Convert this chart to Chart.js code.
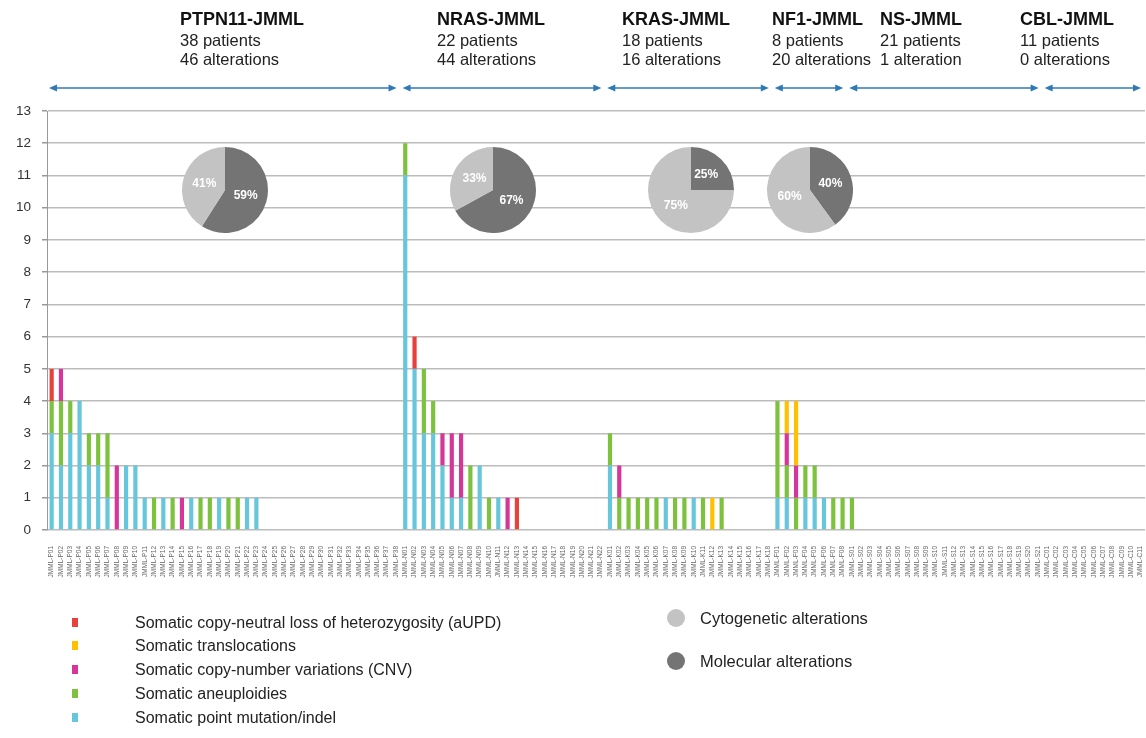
<!DOCTYPE html>
<html>
<head>
<meta charset="utf-8">
<script src="https://cdn.jsdelivr.net/npm/chart.js@4.4.1/dist/chart.umd.min.js"></script>
<style>
  body { margin: 0; background: #fff; font-family: "Liberation Sans", Arial, sans-serif; }
  #wrap { position: relative; width: 1146px; height: 738px; overflow: hidden; }
  #mainChart { position: absolute; left: 0; top: 0; }
  .pie { position: absolute; top: 147px; }
  .legend-row { position: absolute; font-size: 16px; color: #222; line-height: 18px; white-space: nowrap; }
  .sq { position: absolute; width: 6px; height: 9px; }
  .dot { position: absolute; width: 18px; height: 18px; border-radius: 50%; }
</style>
</head>
<body>
<div id="wrap">
  <canvas id="mainChart" width="1146" height="738"></canvas>
  <canvas class="pie" id="pie0" width="86" height="86" style="left:182px"></canvas>
  <canvas class="pie" id="pie1" width="86" height="86" style="left:450px"></canvas>
  <canvas class="pie" id="pie2" width="86" height="86" style="left:648px"></canvas>
  <canvas class="pie" id="pie3" width="86" height="86" style="left:767px"></canvas>

  <div class="sq" style="left:72px;top:618px;background:#e8403a"></div>
  <div class="legend-row" style="left:135px;top:614px">Somatic copy-neutral loss of heterozygosity (aUPD)</div>
  <div class="sq" style="left:72px;top:641px;background:#ffc000"></div>
  <div class="legend-row" style="left:135px;top:637px">Somatic translocations</div>
  <div class="sq" style="left:72px;top:665px;background:#d6359a"></div>
  <div class="legend-row" style="left:135px;top:661px">Somatic copy-number variations (CNV)</div>
  <div class="sq" style="left:72px;top:689px;background:#7cc23c"></div>
  <div class="legend-row" style="left:135px;top:685px">Somatic aneuploidies</div>
  <div class="sq" style="left:72px;top:713px;background:#66c6dc"></div>
  <div class="legend-row" style="left:135px;top:709px">Somatic point mutation/indel</div>

  <div class="dot" style="left:667px;top:609px;background:#c3c3c3"></div>
  <div class="legend-row" style="left:700px;top:609px;font-size:16.5px">Cytogenetic alterations</div>
  <div class="dot" style="left:667px;top:652px;background:#747474"></div>
  <div class="legend-row" style="left:700px;top:652px;font-size:16.5px">Molecular alterations</div>
</div>

<script>
// groups (JMML subtypes)
const groupNames = ["PTPN11-JMML", "NRAS-JMML", "KRAS-JMML", "NF1-JMML", "NS-JMML", "CBL-JMML"];
const groupPatients = ["38 patients", "22 patients", "18 patients", "8 patients", "21 patients", "11 patients"];
const groupAlterations = ["46 alterations", "44 alterations", "16 alterations", "20 alterations", "1 alteration", "0 alterations"];
const groupSizes = [38, 22, 18, 8, 21, 11];
const groupPrefix = ["P", "N", "K", "F", "S", "C"];

// alterations per patient, one value per bar (PTPN11 | NRAS | KRAS | NF1 | NS | CBL)
const pointMutation = [
  3,2,3,4,2,2,1,0,2,2,1,0,1,0,0,1,0,0,1,0,0,1,1,0,0,0,0,0,0,0,0,0,0,0,0,0,0,0,
  11,5,3,3,2,1,1,0,2,0,1,0,0,0,0,0,0,0,0,0,0,0,
  2,0,0,0,0,0,1,0,0,1,0,0,0,0,0,0,0,0,
  1,1,0,1,1,1,0,0,
  0,0,0,0,0,0,0,0,0,0,0,0,0,0,0,0,0,0,0,0,0,
  0,0,0,0,0,0,0,0,0,0,0
];
const aneuploidy = [
  1,2,1,0,1,1,2,0,0,0,0,1,0,1,0,0,1,1,0,1,1,0,0,0,0,0,0,0,0,0,0,0,0,0,0,0,0,0,
  1,0,2,1,0,0,0,2,0,1,0,0,0,0,0,0,0,0,0,0,0,0,
  1,1,1,1,1,1,0,1,1,0,1,0,1,0,0,0,0,0,
  3,1,1,1,1,0,1,1,
  1,0,0,0,0,0,0,0,0,0,0,0,0,0,0,0,0,0,0,0,0,
  0,0,0,0,0,0,0,0,0,0,0
];
const cnv = [
  0,1,0,0,0,0,0,2,0,0,0,0,0,0,1,0,0,0,0,0,0,0,0,0,0,0,0,0,0,0,0,0,0,0,0,0,0,0,
  0,0,0,0,1,2,2,0,0,0,0,1,0,0,0,0,0,0,0,0,0,0,
  0,1,0,0,0,0,0,0,0,0,0,0,0,0,0,0,0,0,
  0,1,1,0,0,0,0,0,
  0,0,0,0,0,0,0,0,0,0,0,0,0,0,0,0,0,0,0,0,0,
  0,0,0,0,0,0,0,0,0,0,0
];
const translocation = [
  0,0,0,0,0,0,0,0,0,0,0,0,0,0,0,0,0,0,0,0,0,0,0,0,0,0,0,0,0,0,0,0,0,0,0,0,0,0,
  0,0,0,0,0,0,0,0,0,0,0,0,0,0,0,0,0,0,0,0,0,0,
  0,0,0,0,0,0,0,0,0,0,0,1,0,0,0,0,0,0,
  0,1,2,0,0,0,0,0,
  0,0,0,0,0,0,0,0,0,0,0,0,0,0,0,0,0,0,0,0,0,
  0,0,0,0,0,0,0,0,0,0,0
];
const aupd = [
  1,0,0,0,0,0,0,0,0,0,0,0,0,0,0,0,0,0,0,0,0,0,0,0,0,0,0,0,0,0,0,0,0,0,0,0,0,0,
  0,1,0,0,0,0,0,0,0,0,0,0,1,0,0,0,0,0,0,0,0,0,
  0,0,0,0,0,0,0,0,0,0,0,0,0,0,0,0,0,0,
  0,0,0,0,0,0,0,0,
  0,0,0,0,0,0,0,0,0,0,0,0,0,0,0,0,0,0,0,0,0,
  0,0,0,0,0,0,0,0,0,0,0
];

// pie insets: % molecular vs cytogenetic (PTPN11, NRAS, KRAS, NF1)
const molecularPct = [59, 67, 25, 40];
const cytogeneticPct = [41, 33, 75, 60];

// patient tick labels
const patientLabels = [];
groupSizes.forEach((n, g) => {
  for (let i = 1; i <= n; i++) patientLabels.push("JMML-" + groupPrefix[g] + String(i).padStart(2, "0"));
});

// header text x positions (layout only)
const headerX = [180, 437, 622, 772, 880, 1020];

const headerPlugin = {
  id: "header",
  afterDraw(chart) {
    const ctx = chart.ctx;
    const xs = chart.scales.x;
    const step = xs.getPixelForValue(1) - xs.getPixelForValue(0);
    ctx.save();
    ctx.textBaseline = "middle";
    ctx.textAlign = "left";
    groupNames.forEach((name, g) => {
      ctx.fillStyle = "#111";
      ctx.font = "bold 18px 'Liberation Sans', Arial, sans-serif";
      ctx.fillText(name, headerX[g], 20);
      ctx.font = "16.5px 'Liberation Sans', Arial, sans-serif";
      ctx.fillStyle = "#222";
      ctx.fillText(groupPatients[g], headerX[g], 41);
      ctx.fillText(groupAlterations[g], headerX[g], 60);
    });
    // double arrows per group
    let start = 0;
    const y = 88;
    ctx.strokeStyle = "#2f79b5";
    ctx.fillStyle = "#2f79b5";
    ctx.lineWidth = 1.5;
    groupSizes.forEach((n) => {
      const left = xs.getPixelForValue(start) - step / 2 + 2;
      const right = Math.min(xs.getPixelForValue(start + n - 1) + step / 2 - 4, chart.width - 5);
      ctx.beginPath();
      ctx.moveTo(left + 3, y);
      ctx.lineTo(right - 3, y);
      ctx.stroke();
      ctx.beginPath();
      ctx.moveTo(left, y); ctx.lineTo(left + 8, y - 3.5); ctx.lineTo(left + 8, y + 3.5); ctx.closePath();
      ctx.fill();
      ctx.beginPath();
      ctx.moveTo(right, y); ctx.lineTo(right - 8, y - 3.5); ctx.lineTo(right - 8, y + 3.5); ctx.closePath();
      ctx.fill();
      start += n;
    });
    ctx.restore();
  }
};

new Chart(document.getElementById("mainChart"), {
  type: "bar",
  data: {
    labels: patientLabels,
    datasets: [
      { label: "Somatic point mutation/indel", data: pointMutation, backgroundColor: "#66c6dc" },
      { label: "Somatic aneuploidies", data: aneuploidy, backgroundColor: "#7cc23c" },
      { label: "Somatic copy-number variations (CNV)", data: cnv, backgroundColor: "#d6359a" },
      { label: "Somatic translocations", data: translocation, backgroundColor: "#ffc000" },
      { label: "Somatic copy-neutral loss of heterozygosity (aUPD)", data: aupd, backgroundColor: "#e8403a" }
    ]
  },
  options: {
    responsive: false,
    animation: false,
    devicePixelRatio: 1,
    layout: { padding: { top: 111, left: 0, right: 1, bottom: 158 } },
    datasets: { bar: { barPercentage: 0.45, categoryPercentage: 1, borderWidth: 0 } },
    plugins: { legend: { display: false }, tooltip: { enabled: false } },
    scales: {
      x: {
        stacked: true,
        grid: { display: false },
        border: { display: false },
        afterFit: (s) => { s.height = 50; s.paddingLeft = 0; s.paddingRight = 0; },
        ticks: {
          autoSkip: false, maxRotation: 90, minRotation: 90, padding: 8,
          color: "#666", font: { size: 6.5, family: "'Liberation Sans', Arial" }
        }
      },
      y: {
        stacked: true,
        min: 0, max: 13,
        afterFit: (s) => { s.width = 47; },
        grid: { color: "#bcbcbc", lineWidth: 1.5, tickLength: 5, tickColor: "#999" },
        border: { color: "#999", width: 1 },
        ticks: {
          stepSize: 1, padding: 11, color: "#333",
          font: { size: 13.5, family: "'Liberation Sans', Arial" }
        }
      }
    }
  },
  plugins: [headerPlugin]
});

// pie percentage labels
const pieLabels = {
  id: "pieLabels",
  afterDatasetsDraw(chart) {
    const ctx = chart.ctx;
    const meta = chart.getDatasetMeta(0);
    ctx.save();
    ctx.font = "bold 12px 'Liberation Sans', Arial, sans-serif";
    ctx.fillStyle = "#fff";
    ctx.textAlign = "center";
    ctx.textBaseline = "middle";
    meta.data.forEach((arc, i) => {
      const p = arc.tooltipPosition();
      ctx.fillText(chart.data.datasets[0].data[i] + "%", p.x, p.y);
    });
    ctx.restore();
  }
};

molecularPct.forEach((m, i) => {
  new Chart(document.getElementById("pie" + i), {
    type: "pie",
    data: {
      labels: ["Molecular alterations", "Cytogenetic alterations"],
      datasets: [{ data: [m, cytogeneticPct[i]], backgroundColor: ["#747474", "#c3c3c3"], borderWidth: 0 }]
    },
    options: {
      responsive: false,
      animation: false,
      devicePixelRatio: 1,
      plugins: { legend: { display: false }, tooltip: { enabled: false } }
    },
    plugins: [pieLabels]
  });
});
</script>
</body>
</html>
